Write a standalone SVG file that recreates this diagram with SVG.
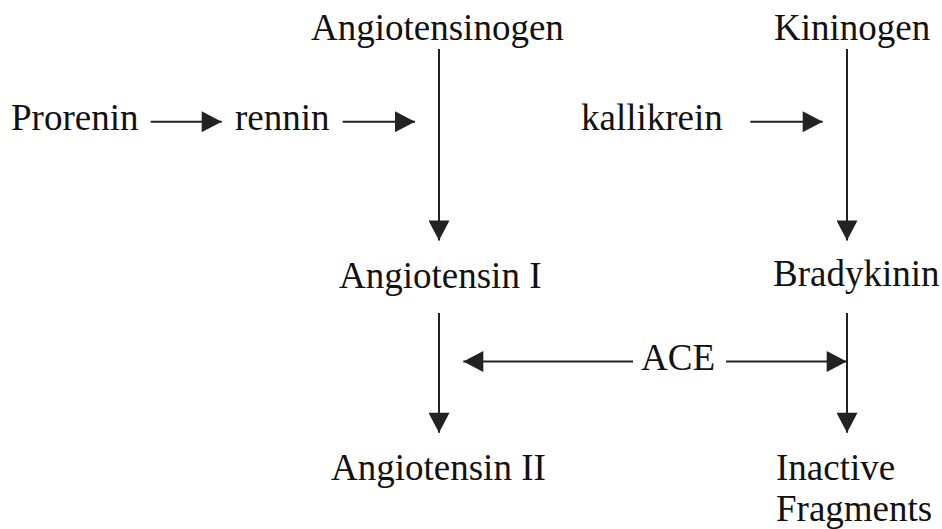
<svg xmlns="http://www.w3.org/2000/svg" width="942" height="529" viewBox="0 0 942 529">
<style>
  text { font-family: "Liberation Serif", "Times New Roman", serif; font-size: 37px; fill: #111; }
  .c { stroke: #222; stroke-width: 2; fill: none; marker-end: url(#ah); }
</style>
<defs>
  <marker id="ah" markerUnits="userSpaceOnUse" markerWidth="21" markerHeight="21" viewBox="0 0 20 21" refX="20" refY="10.5" orient="auto">
    <path d="M0,0 L20,10.5 L0,21 z" fill="#222"/>
  </marker>
</defs>
<rect width="942" height="529" fill="#fff"/>
<g id="connectors">
  <line class="c" x1="150.7" y1="121.7" x2="221.7" y2="121.7"/>
  <line class="c" x1="342.7" y1="121.7" x2="415" y2="121.7"/>
  <line class="c" x1="750.3" y1="121.7" x2="822.7" y2="121.7"/>
  <line class="c" x1="439" y1="49" x2="439" y2="240.5"/>
  <line class="c" x1="847" y1="49" x2="847" y2="240.5"/>
  <line class="c" x1="439" y1="313" x2="439" y2="432.7"/>
  <line class="c" x1="847" y1="313" x2="847" y2="432.7"/>
  <line class="c" x1="633" y1="361.5" x2="463.3" y2="361.5"/>
  <line class="c" x1="726" y1="361.5" x2="846.7" y2="361.5"/>
</g>
<g id="angiotensinogen"><text x="311" y="40">Angiotensinogen</text></g>
<g id="kininogen"><text x="774" y="40">Kininogen</text></g>
<g id="prorenin"><text x="11" y="130">Prorenin</text></g>
<g id="rennin"><text x="235" y="130">rennin</text></g>
<g id="kallikrein"><text x="581" y="130">kallikrein</text></g>
<g id="angiotensin1"><text x="339" y="288">Angiotensin I</text></g>
<g id="bradykinin"><text x="773" y="286">Bradykinin</text></g>
<g id="ace"><text x="641" y="369.5">ACE</text></g>
<g id="angiotensin2"><text x="331" y="480">Angiotensin II</text></g>
<g id="fragments"><text x="776" y="480">Inactive</text><text x="776" y="521">Fragments</text></g>
</svg>
